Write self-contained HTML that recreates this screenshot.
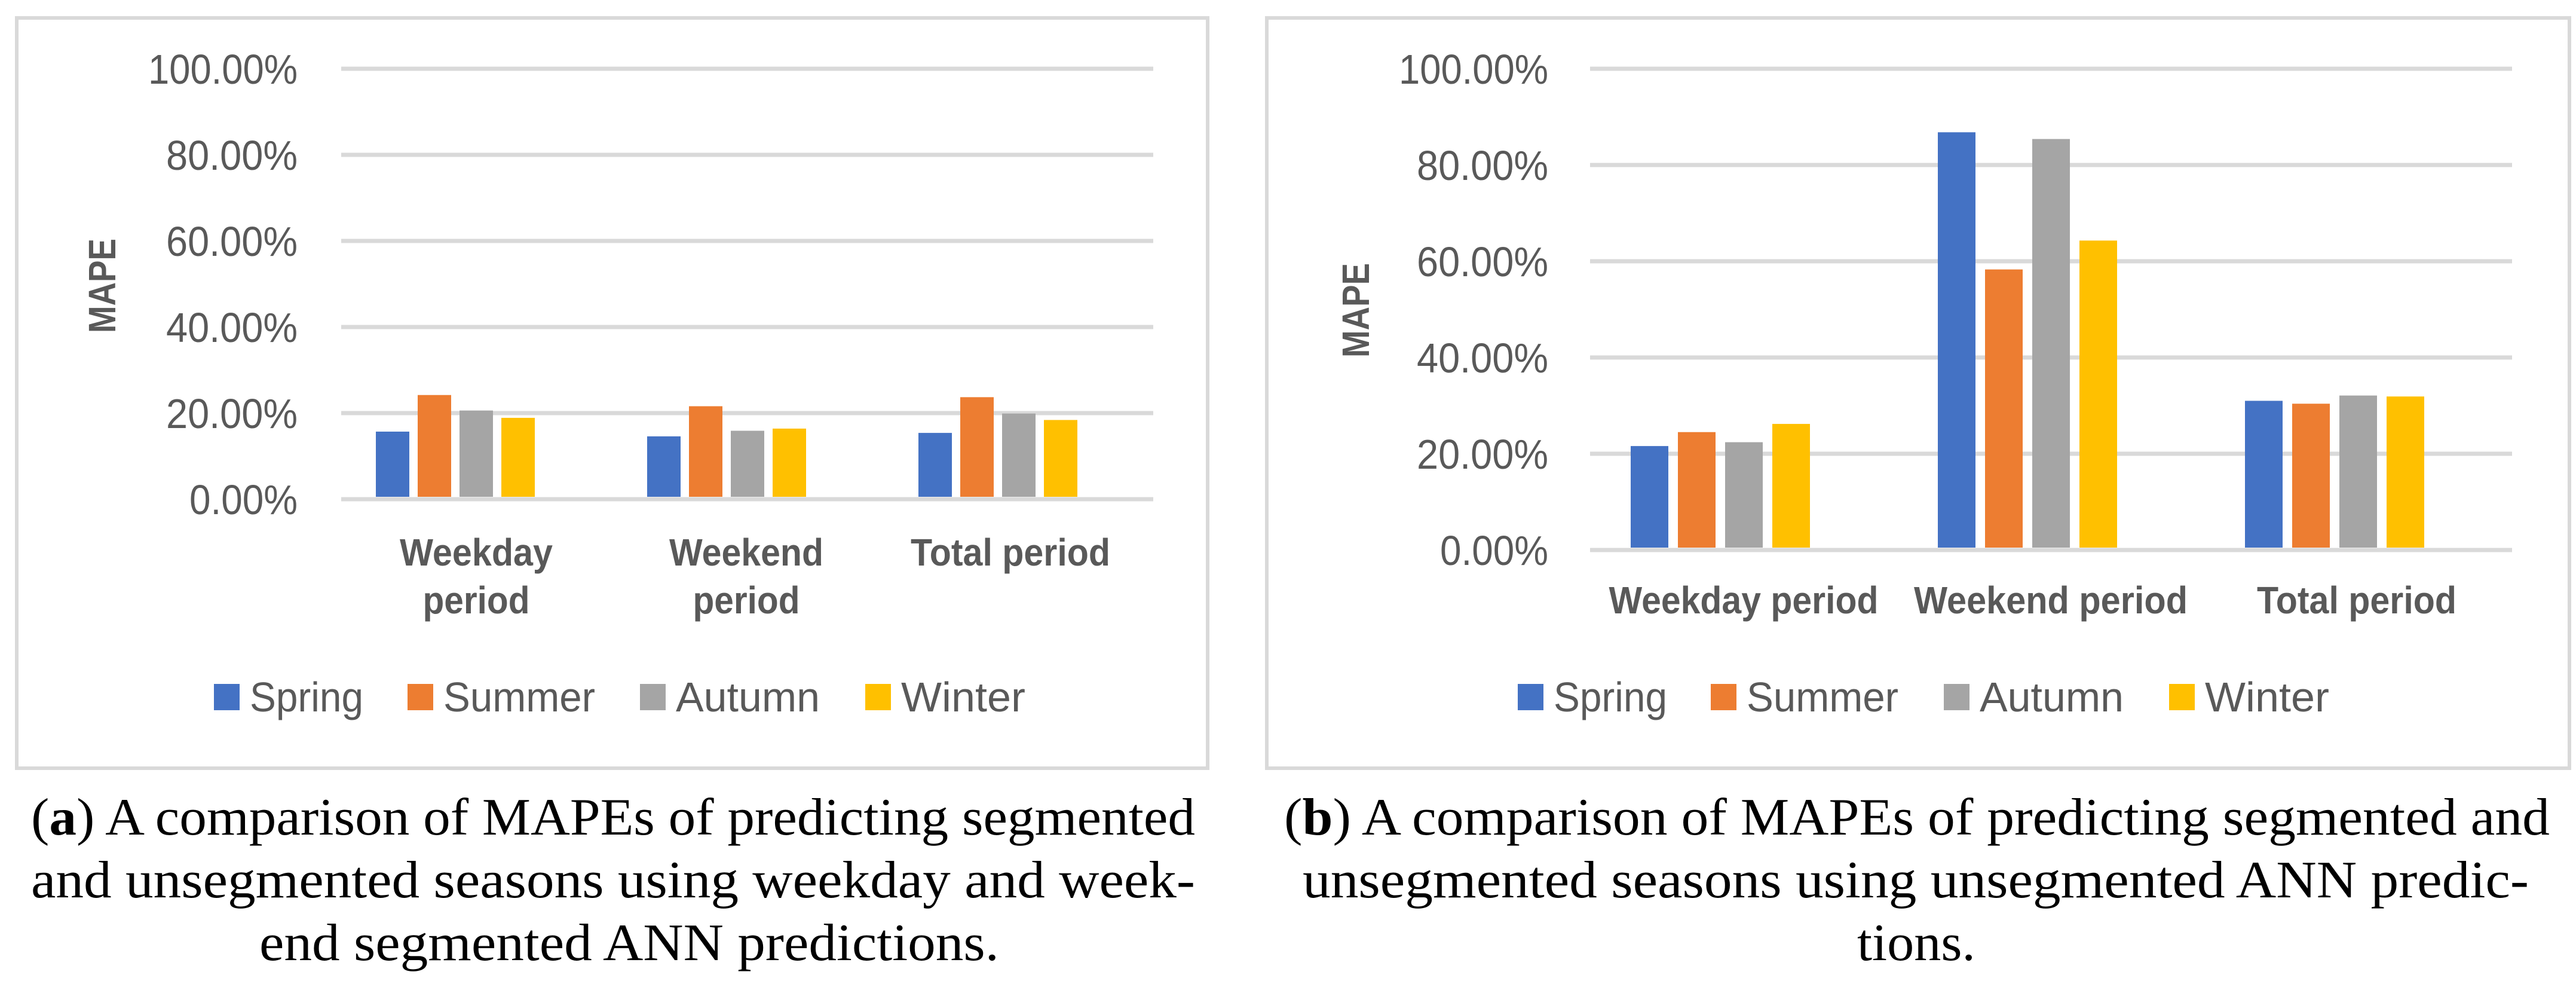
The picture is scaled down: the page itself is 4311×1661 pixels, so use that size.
<!DOCTYPE html>
<html><head><meta charset="utf-8"><style>
html,body{margin:0;padding:0;background:#fff;}
svg{display:block;}
.tick{font-family:"Liberation Sans",sans-serif;font-size:70px;fill:#595959;}
.cat{font-family:"Liberation Sans",sans-serif;font-size:64px;font-weight:bold;fill:#595959;}
.leg{font-family:"Liberation Sans",sans-serif;font-size:70px;fill:#595959;}
.ttl{font-family:"Liberation Sans",sans-serif;font-size:64px;font-weight:bold;fill:#595959;}
.cap{font-family:"Liberation Serif",serif;font-size:88px;fill:#000;}
</style></head><body>
<svg id="fig" width="4311" height="1661" viewBox="0 0 4311 1661" xmlns="http://www.w3.org/2000/svg">
<rect x="0" y="0" width="4311" height="1661" fill="#fff"/>
<rect x="28" y="30" width="1993" height="1255" fill="none" stroke="#d9d9d9" stroke-width="6"/>
<rect x="2120" y="30" width="2180" height="1255" fill="none" stroke="#d9d9d9" stroke-width="6"/>
<g id="chartA"></g>
<g id="chartB"></g>
<g>
<text class="cap" x="52" y="1396" textLength="1948" lengthAdjust="spacingAndGlyphs">(<tspan font-weight="bold">a</tspan>) A comparison of MAPEs of predicting segmented</text>
<text class="cap" x="52" y="1501" textLength="1948" lengthAdjust="spacingAndGlyphs">and unsegmented seasons using weekday and week-</text>
<text class="cap" x="434" y="1606" textLength="1238" lengthAdjust="spacingAndGlyphs">end segmented ANN predictions.</text>
</g>
<g>
<text class="cap" x="2149" y="1396" textLength="2118" lengthAdjust="spacingAndGlyphs">(<tspan font-weight="bold">b</tspan>) A comparison of MAPEs of predicting segmented and</text>
<text class="cap" x="2180" y="1501" textLength="2052" lengthAdjust="spacingAndGlyphs">unsegmented seasons using unsegmented ANN predic-</text>
<text class="cap" x="3108" y="1606" textLength="198" lengthAdjust="spacingAndGlyphs">tions.</text>
</g>
</svg>
<script>
const seriesNames = ["Spring","Summer","Autumn","Winter"];
const seriesColors = ["#4472c4","#ed7d31","#a5a5a5","#ffc000"];
const tickValues = [0,20,40,60,80,100];
const tickLabels = ["0.00%","20.00%","40.00%","60.00%","80.00%","100.00%"];
const categoriesA = [["Weekday","period"],["Weekend","period"],["Total period"]];
const springA = [15.7, 14.6, 15.4];
const summerA = [24.2, 21.6, 23.7];
const autumnA = [20.6, 15.9, 19.9];
const winterA = [18.9, 16.4, 18.4];
const categoriesB = [["Weekday period"],["Weekend period"],["Total period"]];
const springB = [21.6, 86.8, 31.0];
const summerB = [24.5, 58.3, 30.4];
const autumnB = [22.4, 85.4, 32.1];
const winterB = [26.2, 64.3, 31.9];

const NS = "http://www.w3.org/2000/svg";
function mk(tag, attrs, parent){
  const e = document.createElementNS(NS, tag);
  for (const k in attrs) e.setAttribute(k, attrs[k]);
  parent.appendChild(e);
  return e;
}
const legendLens = {Spring:190,Summer:254,Autumn:241,Winter:208};
function catLen(s){ const m={"Weekday":256,"Weekend":258,"period":179,"Total period":334,"Weekday period":451,"Weekend period":458}; return m[s]; }
function tickLen(s){ return s.length===7?250:(s.length===6?220:181); }
function draw(g, cfg, cats, series){
  const y = v => cfg.y0 - (v/100)*(cfg.y0 - cfg.y100);
  tickValues.forEach((t,i)=>{
    const ln = mk("line",{x1:cfg.gx0,x2:cfg.gx1,y1:y(t),y2:y(t),stroke:"#d9d9d9","stroke-width":7},g);
    
    
    const L = tickLen(tickLabels[i]);
    const tx = mk("text",{x:cfg.tickX-L,y:y(t)+25,class:"tick",textLength:L,lengthAdjust:"spacingAndGlyphs"},g);
    tx.textContent = tickLabels[i];
    
    
  });
  const ttl = mk("text",{x:-79,y:0,class:"ttl",textLength:158,lengthAdjust:"spacingAndGlyphs",transform:`translate(${cfg.titleX+23},${cfg.titleY}) rotate(-90)`},g);
  ttl.textContent = "MAPE";
  
  
  cats.forEach((c,ci)=>{
    const gx = cfg.barStart + ci*cfg.catW;
    series.forEach((s,si)=>{
      const v = s[ci];
      const r = mk("rect",{x:gx+si*cfg.step,y:y(v),width:cfg.barW,height:cfg.y0-4-y(v),fill:seriesColors[si]},g);
      
      
    });
    c.forEach((line,li)=>{
      const L = catLen(line);
      const t = mk("text",{x:cfg.labelX[ci]-L/2,y:cfg.labelY + li*80,class:"cat",textLength:L,lengthAdjust:"spacingAndGlyphs"},g);
      t.textContent = line;
      
      
    });
  });
  seriesNames.forEach((nm,si)=>{
    const sq = mk("rect",{x:cfg.legSq[si],y:cfg.legY-22,width:43,height:44,fill:seriesColors[si]},g);
    
    
    const t = mk("text",{x:cfg.legSq[si]+60,y:cfg.legY+24,class:"leg",textLength:legendLens[nm],lengthAdjust:"spacingAndGlyphs"},g);
    t.textContent = nm;
    
    
  });
}
draw(document.getElementById("chartA"),{
  y0:835,y100:115,gx0:571,gx1:1930,tickX:498,titleX:170,titleY:478,
  barStart:629,catW:454,step:70,barW:56,
  labelX:[797,1249,1691],labelY:946,legY:1166,legSq:[358,682,1071,1448]
},categoriesA,[springA,summerA,autumnA,winterA]);
draw(document.getElementById("chartB"),{
  y0:920,y100:115,gx0:2661,gx1:4204,tickX:2591,titleX:2268,titleY:519,
  barStart:2729,catW:514,step:79,barW:63,
  labelX:[2918,3432,3944],labelY:1026,legY:1166,legSq:[2540,2863,3253,3630]
},categoriesB,[springB,summerB,autumnB,winterB]);
</script>
</body></html>
